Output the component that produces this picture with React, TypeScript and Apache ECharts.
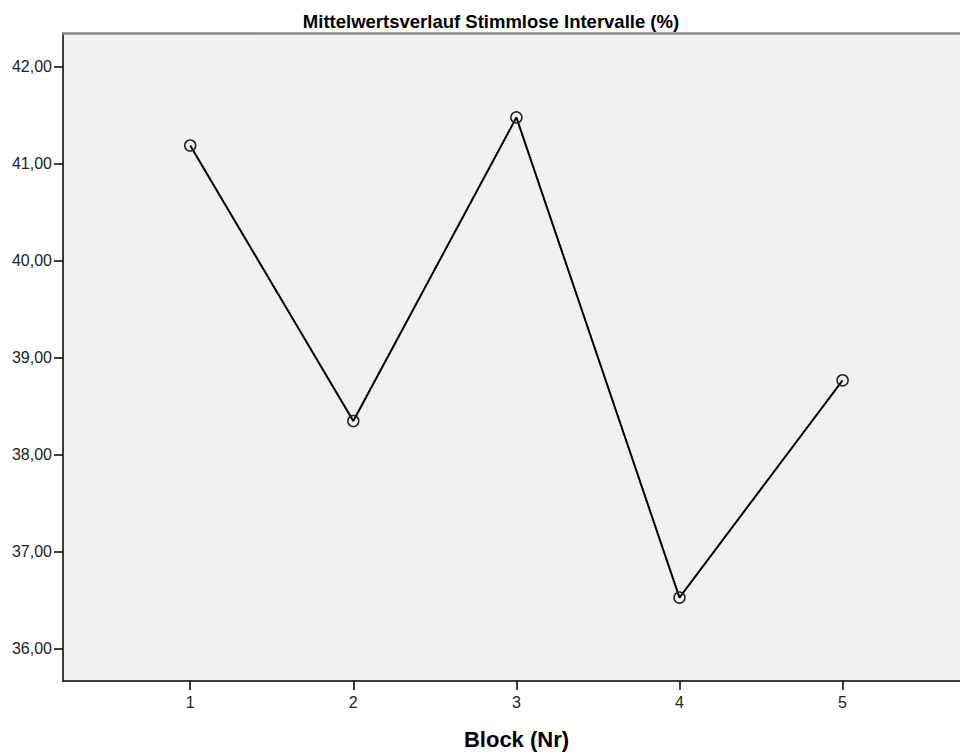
import React, { useEffect, useRef } from "react";
import * as echarts from "echarts";

const blocks = [1, 2, 3, 4, 5];
const means = [41.19, 38.35, 41.48, 36.53, 38.77];
const yTicks = [36, 37, 38, 39, 40, 41, 42];
const xTicks = [1, 2, 3, 4, 5];
const chartTitle = "Mittelwertsverlauf Stimmlose Intervalle (%)";
const xName = "Block (Nr)";

const FONT = "'Liberation Sans', Arial, sans-serif";

export default function App() {
  const ref = useRef<HTMLDivElement>(null);
  useEffect(() => {
    if (!ref.current) return;
    const chart = echarts.init(ref.current, undefined, { renderer: "svg" });
    chart.setOption({
      animation: false,
      backgroundColor: "#ffffff",
      title: {
        text: chartTitle,
        left: 486,
        textAlign: "center",
        top: 7,
        textStyle: { fontFamily: FONT, fontSize: 18.5, fontWeight: "bold", color: "#000" },
      },
      grid: {
        left: 63,
        right: 0,
        top: 33,
        bottom: 71,
        show: true,
        backgroundColor: "#f0f0f0",
        borderWidth: 0,
      },
      xAxis: [
        {
          type: "value",
          min: 0.22,
          max: 5.72,
          name: xName,
          nameLocation: "middle",
          nameGap: 47,
          nameTextStyle: { fontFamily: FONT, fontSize: 22, fontWeight: "bold", color: "#000", padding: [0, 0, 0, 10] },
          axisLine: { show: true, lineStyle: { color: "#000", width: 1.5 } },
          axisTick: { show: true, length: 9, customValues: xTicks, lineStyle: { color: "#000", width: 1.5 } },
          axisLabel: {
            customValues: xTicks,
            margin: 13,
            fontFamily: FONT,
            fontSize: 16,
            color: "#222",
            formatter: (v: number) => String(v),
          },
          splitLine: { show: false },
        },
        {
          type: "value",
          position: "top",
          min: 0.22,
          max: 5.72,
          axisLine: { show: true, lineStyle: { color: "#888", width: 2.5 } },
          axisTick: { show: false },
          axisLabel: { show: false },
          splitLine: { show: false },
        },
      ],
      yAxis: {
        type: "value",
        min: 35.67,
        max: 42.35,
        axisLine: { show: true, lineStyle: { color: "#000", width: 1.5 } },
        axisTick: { show: true, length: 9, customValues: yTicks, lineStyle: { color: "#000", width: 1.5 } },
        axisLabel: {
          customValues: yTicks,
          margin: 11,
          fontFamily: FONT,
          fontSize: 16,
          color: "#222",
          formatter: (v: number) => v.toFixed(2).replace(".", ","),
        },
        splitLine: { show: false },
      },
      series: [
        {
          type: "line",
          xAxisIndex: 0,
          data: blocks.map((b, i) => [b, means[i]]),
          lineStyle: { color: "#000", width: 2 },
          symbol: "circle",
          symbolSize: 11,
          itemStyle: { color: "rgba(0,0,0,0)", borderColor: "#222", borderWidth: 1.5 },
          z: 3,
        },
      ],
    });
    return () => chart.dispose();
  }, []);
  return <div ref={ref} style={{ width: 960, height: 755, position: "absolute", left: 0, top: 0 }} />;
}
